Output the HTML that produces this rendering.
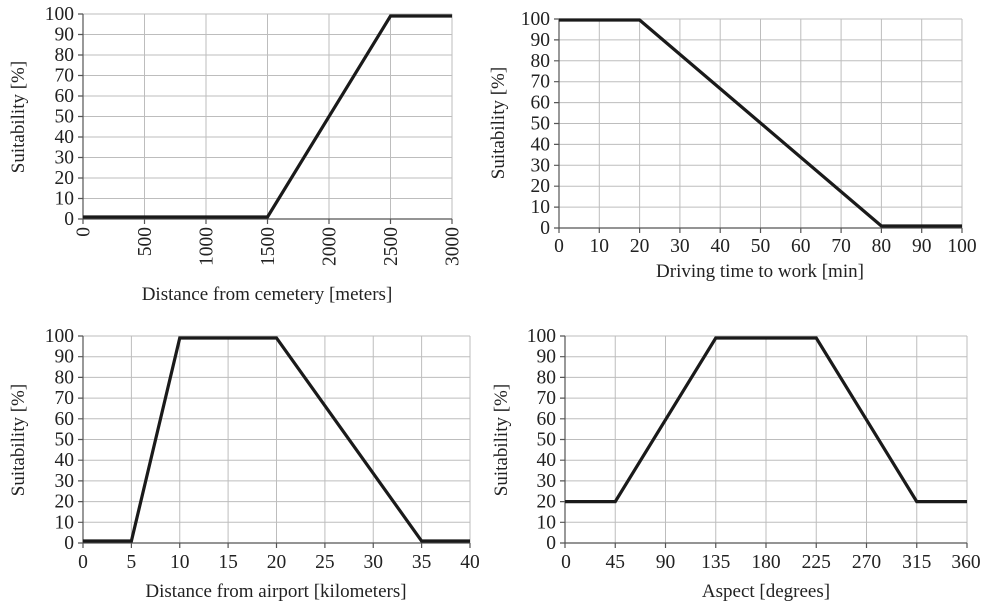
<!DOCTYPE html>
<html><head><meta charset="utf-8"><style>
html,body{margin:0;padding:0;background:#fff;}
svg{display:block;font-family:"Liberation Serif",serif;}
.g{stroke:#bdbdbd;stroke-width:1;fill:none}
.ax{stroke:#555;stroke-width:1.2;fill:none}
.d{stroke:#1a1a1a;stroke-width:3.2;fill:none;stroke-linejoin:miter}
.t{font-size:19.5px;fill:#222}
.l{font-size:19px;fill:#222}
</style></head><body>
<svg width="985" height="608" viewBox="0 0 985 608" xmlns="http://www.w3.org/2000/svg">
<!-- Chart 1 -->
<path class="g" d="M144.5 14V219M206 14V219M267.5 14V219M329 14V219M390.5 14V219M452 14V219M83 14H452M83 34.5H452M83 55H452M83 75.5H452M83 96H452M83 116.5H452M83 137H452M83 157.5H452M83 178H452M83 198.5H452"/>
<path class="ax" d="M83 14V219H452M78 14H83M78 34.5H83M78 55H83M78 75.5H83M78 96H83M78 116.5H83M78 137H83M78 157.5H83M78 178H83M78 198.5H83M78 219H83M83 219V224M144.5 219V224M206 219V224M267.5 219V224M329 219V224M390.5 219V224M452 219V224"/>
<g class="t" text-anchor="end">
<text x="74" y="20">100</text><text x="74" y="40.5">90</text><text x="74" y="61">80</text><text x="74" y="81.5">70</text><text x="74" y="102">60</text><text x="74" y="122.5">50</text><text x="74" y="143">40</text><text x="74" y="163.5">30</text><text x="74" y="184">20</text><text x="74" y="204.5">10</text><text x="74" y="225">0</text>
<text transform="translate(89.5,227) rotate(-90)">0</text>
<text transform="translate(151,227) rotate(-90)">500</text>
<text transform="translate(212.5,227) rotate(-90)">1000</text>
<text transform="translate(274,227) rotate(-90)">1500</text>
<text transform="translate(335.5,227) rotate(-90)">2000</text>
<text transform="translate(397,227) rotate(-90)">2500</text>
<text transform="translate(458.5,227) rotate(-90)">3000</text>
</g>
<text class="l" text-anchor="middle" transform="translate(24,117) rotate(-90)">Suitability [%]</text>
<text class="l" text-anchor="middle" x="267" y="300">Distance from cemetery [meters]</text>
<polyline class="d" points="83,217 267.5,217 390.5,16 452,16"/>

<!-- Chart 2 -->
<path class="g" d="M599.3 19V228M639.6 19V228M679.9 19V228M720.2 19V228M760.5 19V228M800.8 19V228M841.1 19V228M881.4 19V228M921.7 19V228M962 19V228M559 19H962M559 39.9H962M559 60.8H962M559 81.7H962M559 102.6H962M559 123.5H962M559 144.4H962M559 165.3H962M559 186.2H962M559 207.1H962"/>
<path class="ax" d="M559 19V228H962M554 19H559M554 39.9H559M554 60.8H559M554 81.7H559M554 102.6H559M554 123.5H559M554 144.4H559M554 165.3H559M554 186.2H559M554 207.1H559M554 228H559M559 228V233M599.3 228V233M639.6 228V233M679.9 228V233M720.2 228V233M760.5 228V233M800.8 228V233M841.1 228V233M881.4 228V233M921.7 228V233M962 228V233"/>
<g class="t" text-anchor="end">
<text x="550" y="25">100</text><text x="550" y="45.9">90</text><text x="550" y="66.8">80</text><text x="550" y="87.7">70</text><text x="550" y="108.6">60</text><text x="550" y="129.5">50</text><text x="550" y="150.4">40</text><text x="550" y="171.3">30</text><text x="550" y="192.2">20</text><text x="550" y="213.1">10</text><text x="550" y="234">0</text>
</g>
<g class="t" text-anchor="middle">
<text x="559" y="252">0</text><text x="599.3" y="252">10</text><text x="639.6" y="252">20</text><text x="679.9" y="252">30</text><text x="720.2" y="252">40</text><text x="760.5" y="252">50</text><text x="800.8" y="252">60</text><text x="841.1" y="252">70</text><text x="881.4" y="252">80</text><text x="921.7" y="252">90</text><text x="962" y="252">100</text>
</g>
<text class="l" text-anchor="middle" transform="translate(504,123) rotate(-90)">Suitability [%]</text>
<text class="l" text-anchor="middle" x="760" y="277">Driving time to work [min]</text>
<polyline class="d" points="559,20 639.6,20 881.4,226 962,226"/>

<!-- Chart 3 -->
<path class="g" d="M131.4 336V543M179.75 336V543M228.1 336V543M276.5 336V543M324.9 336V543M373.25 336V543M421.6 336V543M470 336V543M83 336H470M83 356.7H470M83 377.4H470M83 398.1H470M83 418.8H470M83 439.5H470M83 460.2H470M83 480.9H470M83 501.6H470M83 522.3H470"/>
<path class="ax" d="M83 336V543H470M78 336H83M78 356.7H83M78 377.4H83M78 398.1H83M78 418.8H83M78 439.5H83M78 460.2H83M78 480.9H83M78 501.6H83M78 522.3H83M78 543H83M83 543V548M131.4 543V548M179.75 543V548M228.1 543V548M276.5 543V548M324.9 543V548M373.25 543V548M421.6 543V548M470 543V548"/>
<g class="t" text-anchor="end">
<text x="74" y="342">100</text><text x="74" y="362.7">90</text><text x="74" y="383.4">80</text><text x="74" y="404.1">70</text><text x="74" y="424.8">60</text><text x="74" y="445.5">50</text><text x="74" y="466.2">40</text><text x="74" y="486.9">30</text><text x="74" y="507.6">20</text><text x="74" y="528.3">10</text><text x="74" y="549">0</text>
</g>
<g class="t" text-anchor="middle">
<text x="83" y="568">0</text><text x="131.4" y="568">5</text><text x="179.75" y="568">10</text><text x="228.1" y="568">15</text><text x="276.5" y="568">20</text><text x="324.9" y="568">25</text><text x="373.25" y="568">30</text><text x="421.6" y="568">35</text><text x="470" y="568">40</text>
</g>
<text class="l" text-anchor="middle" transform="translate(24,440) rotate(-90)">Suitability [%]</text>
<text class="l" text-anchor="middle" x="276" y="597">Distance from airport [kilometers]</text>
<polyline class="d" points="83,541 131.4,541 179.75,338 276.5,338 421.6,541 470,541"/>

<!-- Chart 4 -->
<path class="g" d="M615.25 336V543M665.5 336V543M715.75 336V543M766 336V543M816.25 336V543M866.5 336V543M916.75 336V543M967 336V543M565 336H967M565 356.7H967M565 377.4H967M565 398.1H967M565 418.8H967M565 439.5H967M565 460.2H967M565 480.9H967M565 501.6H967M565 522.3H967"/>
<path class="ax" d="M565 336V543H967M560 336H565M560 356.7H565M560 377.4H565M560 398.1H565M560 418.8H565M560 439.5H565M560 460.2H565M560 480.9H565M560 501.6H565M560 522.3H565M560 543H565M565 543V548M615.25 543V548M665.5 543V548M715.75 543V548M766 543V548M816.25 543V548M866.5 543V548M916.75 543V548M967 543V548"/>
<g class="t" text-anchor="end">
<text x="556" y="342">100</text><text x="556" y="362.7">90</text><text x="556" y="383.4">80</text><text x="556" y="404.1">70</text><text x="556" y="424.8">60</text><text x="556" y="445.5">50</text><text x="556" y="466.2">40</text><text x="556" y="486.9">30</text><text x="556" y="507.6">20</text><text x="556" y="528.3">10</text><text x="556" y="549">0</text>
</g>
<g class="t" text-anchor="middle">
<text x="566" y="568">0</text><text x="615.25" y="568">45</text><text x="665.5" y="568">90</text><text x="715.75" y="568">135</text><text x="766" y="568">180</text><text x="816.25" y="568">225</text><text x="866.5" y="568">270</text><text x="916.75" y="568">315</text><text x="966" y="568">360</text>
</g>
<text class="l" text-anchor="middle" transform="translate(507,440) rotate(-90)">Suitability [%]</text>
<text class="l" text-anchor="middle" x="766" y="597">Aspect [degrees]</text>
<polyline class="d" points="565,501.6 615.25,501.6 715.75,338 816.25,338 916.75,501.6 967,501.6"/>
</svg>
</body></html>
